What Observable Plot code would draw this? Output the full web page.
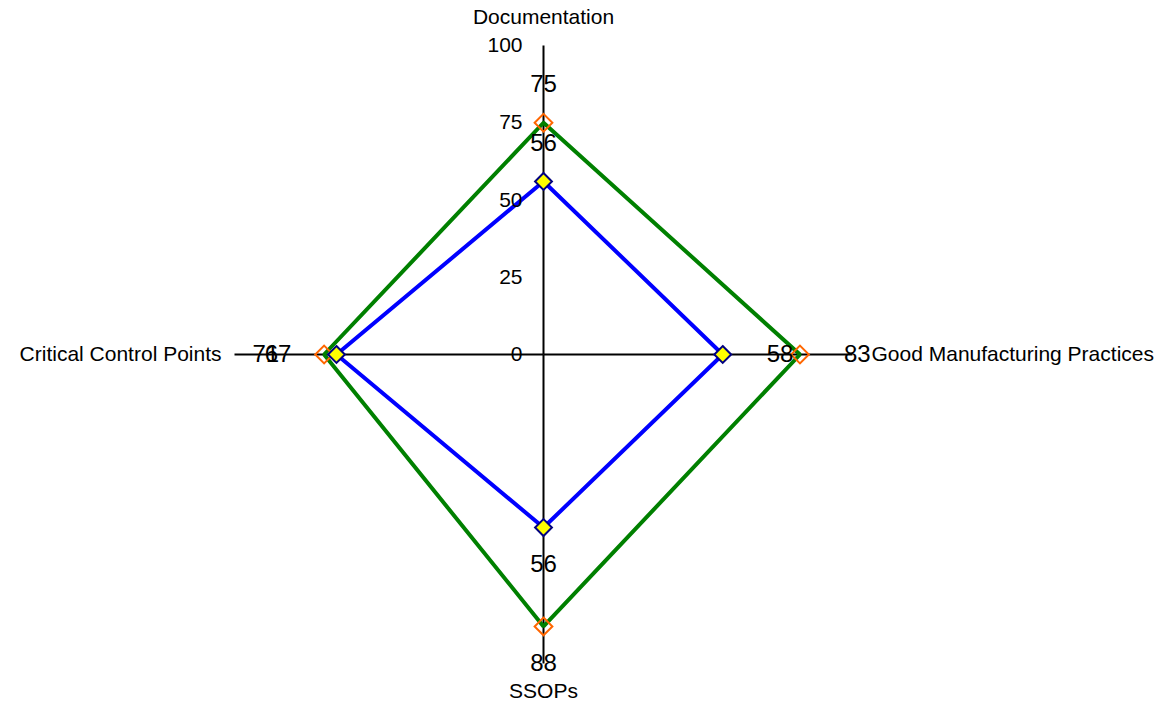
<!DOCTYPE html>
<html>
<head>
<meta charset="utf-8">
<script src="https://cdn.jsdelivr.net/npm/d3@7"></script>
<script src="https://cdn.jsdelivr.net/npm/@observablehq/plot@0.6"></script>
<style>
  html, body { margin: 0; padding: 0; background: #fff; }
  svg { display: block; }
</style>
</head>
<body>
<script>
const categories = ["Documentation", "Good Manufacturing Practices", "SSOPs", "Critical Control Points"];
const seriesBlue = [56, 58, 56, 67];
const seriesGreen = [75, 83, 88, 71];
const tickValues = [0, 25, 50, 75, 100];
const maxValue = 100;

// polar -> cartesian in data units (clockwise from top)
function pos(i, v) {
  const a = i * 2 * Math.PI / categories.length;
  return { x: v * Math.sin(a), y: v * Math.cos(a) };
}
function seriesPoints(values, name) {
  return values.map((v, i) => ({ ...pos(i, v), value: v, i, cat: categories[i], series: name }));
}
const blue = seriesPoints(seriesBlue, "blue");
const green = seriesPoints(seriesGreen, "green");
const closed = arr => [...arr, arr[0]];
const spokes = categories.map((c, i) => ({ cat: c, i, ...pos(i, maxValue) }));
const ticks = tickValues.map(t => ({ t, x: 0, y: t }));
const allVals = [...green, ...blue];

const font = "Liberation Sans, Arial, Helvetica, sans-serif";
const cx = 543, cy = 354, R = 309;

const chart = Plot.plot({
  width: 1163,
  height: 704,
  margin: 0,
  x: { domain: [-maxValue, maxValue], range: [cx - R, cx + R], axis: null },
  y: { domain: [-maxValue, maxValue], range: [cy + R, cy - R], axis: null },
  style: { fontFamily: font, background: "#fff", overflow: "visible" },
  marks: [
    Plot.link(spokes, { x1: 0, y1: 0, x2: "x", y2: "y", stroke: "#000", strokeWidth: 2 }),
    Plot.line(closed(green), { x: "x", y: "y", stroke: "#008000", strokeWidth: 4, strokeLinejoin: "miter" }),
    Plot.line(closed(blue), { x: "x", y: "y", stroke: "#0000ff", strokeWidth: 4, strokeLinejoin: "miter" }),
    Plot.dot(green, { x: "x", y: "y", symbol: "diamond2", r: 8, stroke: "#ff6600", strokeWidth: 2, fill: "none" }),
    Plot.dot(blue, { x: "x", y: "y", symbol: "diamond2", r: 7.6, stroke: "#000080", strokeWidth: 2, fill: "#ffff00" }),
    // tick labels
    Plot.text(ticks, { x: "x", y: "y", text: d => String(d.t), textAnchor: "end", dx: -21, fontSize: 21, fill: "#000" }),
    // value labels
    Plot.text(allVals, { filter: d => d.i === 0, x: "x", y: "y", text: d => String(d.value), dy: -38, fontSize: 24, fill: "#000" }),
    Plot.text(allVals, { filter: d => d.i === 2, x: "x", y: "y", text: d => String(d.value), dy: 37, fontSize: 24, fill: "#000" }),
    Plot.text(allVals, { filter: d => d.i === 1, x: "x", y: "y", text: d => String(d.value), textAnchor: "start", dx: 44, fontSize: 24, fill: "#000" }),
    Plot.text(allVals, { filter: d => d.i === 3, x: "x", y: "y", text: d => String(d.value), textAnchor: "end", dx: -45, fontSize: 24, fill: "#000" }),
    // category titles
    Plot.text(spokes, { filter: d => d.i === 0, x: "x", y: "y", text: "cat", dy: -28, fontSize: 21, fill: "#000" }),
    Plot.text(spokes, { filter: d => d.i === 2, x: "x", y: "y", text: "cat", dy: 28, fontSize: 21, fill: "#000" }),
    Plot.text(spokes, { filter: d => d.i === 1, x: "x", y: "y", text: "cat", textAnchor: "start", dx: 19, fontSize: 21, fill: "#000" }),
    Plot.text(spokes, { filter: d => d.i === 3, x: "x", y: "y", text: "cat", textAnchor: "end", dx: -13, fontSize: 21, fill: "#000" })
  ]
});
document.body.appendChild(chart);
</script>
</body>
</html>
